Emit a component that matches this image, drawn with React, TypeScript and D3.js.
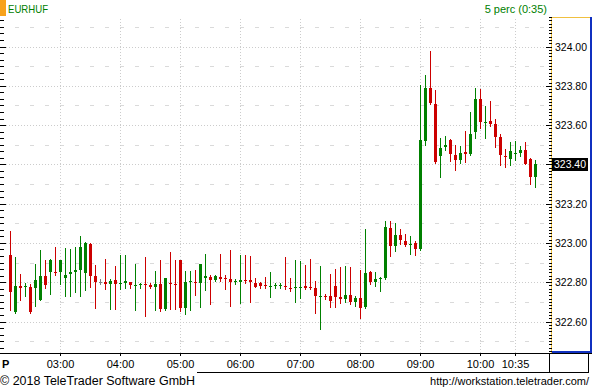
import React from "react";
import * as d3 from "d3";

const symbol = "EURHUF";
const periodLabel = "5 perc (0:35)";
const firstBarMinute = 130; // 02:10
const barMinutes = 5;
const timeTicks = ["03:00", "04:00", "05:00", "06:00", "07:00", "08:00", "09:00", "10:00", "10:35"];
const priceTicks = [322.6, 322.8, 323.0, 323.2, 323.4, 323.6, 323.8, 324.0];
const lastPriceLabel = "323.40";

const opens = [322.939,322.647,322.782,322.776,322.776,322.769,322.711,322.832,322.854,322.854,322.854,322.823,322.842,322.854,322.864,322.849,322.995,322.832,322.800,322.801,322.791,322.811,322.791,322.796,322.801,322.781,322.786,322.791,322.787,322.776,322.791,322.664,322.796,322.791,322.913,322.670,322.801,322.801,322.796,322.821,322.827,322.811,322.827,322.823,322.816,322.801,322.801,322.811,322.811,322.796,322.796,322.786,322.776,322.781,322.781,322.781,322.772,322.771,322.771,322.781,322.776,322.771,322.726,322.731,322.730,322.781,322.726,322.716,322.735,322.701,322.720,322.675,322.852,322.801,322.816,322.821,323.076,322.985,323.040,323.010,322.990,323.000,322.969,323.519,323.789,323.707,323.443,323.489,323.524,323.448,323.422,323.463,323.453,323.565,323.733,323.611,323.621,323.606,323.539,323.443,323.427,323.453,323.458,323.473,323.427,323.336];
const highs = [323.061,322.928,322.842,322.795,322.789,322.893,322.964,322.913,322.918,322.979,322.913,322.974,322.969,322.979,323.035,323.005,322.998,322.888,322.816,322.918,322.816,322.882,322.939,322.939,322.801,322.893,322.796,322.928,322.795,322.857,322.913,322.821,322.954,322.913,322.913,322.857,322.857,322.862,322.893,322.944,322.837,322.837,322.944,322.837,322.964,322.816,322.939,322.939,322.934,322.821,322.801,322.827,322.852,322.796,322.795,322.928,322.821,322.913,322.908,322.888,322.918,322.806,322.882,322.740,322.842,322.869,322.877,322.882,322.877,322.731,322.862,323.071,322.857,322.852,322.827,323.112,323.112,323.101,323.071,323.045,323.035,323.010,323.804,323.855,323.977,323.779,323.534,323.544,323.529,323.499,323.494,323.570,323.667,323.789,323.784,323.697,323.722,323.631,323.555,323.478,323.514,323.519,323.494,323.514,323.432,323.422];
const lows = [322.659,322.643,322.711,322.731,322.643,322.679,322.709,322.772,322.740,322.837,322.789,322.731,322.731,322.752,322.731,322.760,322.774,322.670,322.789,322.764,322.665,322.665,322.764,322.769,322.771,322.659,322.769,322.630,322.769,322.659,322.655,322.660,322.664,322.664,322.655,322.640,322.660,322.736,322.675,322.762,322.691,322.806,322.806,322.765,322.680,322.791,322.696,322.796,322.701,322.776,322.771,322.772,322.726,322.771,322.771,322.765,322.757,322.701,322.721,322.765,322.765,322.645,322.563,322.713,322.675,322.675,322.696,322.701,322.691,322.679,322.619,322.670,322.791,322.781,322.757,322.816,322.934,322.959,322.995,322.985,322.944,322.939,322.964,323.499,323.707,323.407,323.336,323.473,323.417,323.371,323.407,323.412,323.448,323.534,323.585,323.534,323.595,323.489,323.397,323.387,323.397,323.422,323.443,323.402,323.300,323.285];
const closes = [322.752,322.781,322.772,322.781,322.647,322.811,322.832,322.786,322.913,322.846,322.913,322.837,322.852,322.864,322.979,323.001,322.832,322.803,322.800,322.791,322.806,322.791,322.796,322.806,322.786,322.786,322.791,322.786,322.776,322.791,322.665,322.821,322.791,322.786,322.670,322.801,322.806,322.796,322.893,322.832,322.811,322.832,322.816,322.818,322.803,322.806,322.811,322.806,322.801,322.776,322.781,322.781,322.781,322.786,322.786,322.776,322.767,322.776,322.776,322.771,322.771,322.731,322.730,322.726,322.706,322.726,322.716,322.735,322.701,322.721,322.670,322.847,322.801,322.816,322.821,323.081,322.985,323.040,323.015,322.990,322.995,322.969,323.524,323.789,323.712,323.412,323.483,323.499,323.453,323.422,323.458,323.453,323.555,323.733,323.616,323.616,323.606,323.539,323.448,323.438,323.468,323.458,323.473,323.402,323.336,323.402];

const W = 592, H = 390;
const plotTop = 17, plotBottom = 353, plotRight = 551;
const FONT = "'Liberation Sans', Arial, sans-serif";
const GREEN = "#008000", RED = "#cc0000", GRAY = "#808080";

const toMin = (s: string) => { const [h, m] = s.split(":").map(Number); return h * 60 + m; };

export default function App() {
  const x = d3.scaleLinear().domain([firstBarMinute, firstBarMinute + barMinutes * 105]).range([10, 535]);
  const y = d3.scaleLinear().domain([322.6, 324.0]).range([321.5, 46.5]);
  const inv = (py: number) => y.invert(py);
  const pLow = inv(plotBottom), pHigh = inv(plotTop);

  const leftTicks: { py: number; major: boolean }[] = [];
  for (let k = -10; k <= 60; k++) {
    const p = 322.6 + k / 30;
    if (p < pLow || p > pHigh) continue;
    leftTicks.push({ py: Math.round(y(p)) + 0.5, major: k % 6 === 0 });
  }
  const rightTicks: { py: number; major: boolean }[] = [];
  for (let k = -20; k <= 120; k++) {
    const p = 322.6 + k / 60;
    if (p < pLow || p > pHigh) continue;
    rightTicks.push({ py: Math.round(y(p)) + 0.5, major: k % 12 === 0 });
  }
  const minorLevels = priceTicks.map((p) => p + 0.1).concat([322.5]).filter((p) => p > pLow && p < pHigh);

  const candles = opens.map((o, i) => {
    const c = closes[i];
    const px = Math.round(x(firstBarMinute + barMinutes * i));
    const yH = Math.round(y(highs[i]));
    const yL = Math.round(y(lows[i]));
    const yT = Math.round(y(Math.max(o, c)));
    const yB = Math.round(y(Math.min(o, c)));
    const col = c > o ? GREEN : c < o ? RED : GRAY;
    return { px, yH, yL, yT, bh: Math.max(1, yB - yT), col, i };
  });

  const lastY = Math.round(y(closes[closes.length - 1]));

  return (
    <svg width={W} height={H} style={{ position: "absolute", left: 0, top: 0, background: "#fff" }} shapeRendering="crispEdges">
      <rect x={0} y={0} width={W} height={H} fill="#fff" />
      {/* header */}
      <rect x={0} y={0} width={6} height={16} fill="#f7a21b" />
      <text x={8} y={13} fontFamily={FONT} fontSize={11} fill={GREEN} textLength={40} lengthAdjust="spacingAndGlyphs">{symbol}</text>
      <text x={547} y={13} fontFamily={FONT} fontSize={11} fill={GREEN} textAnchor="end">{periodLabel}</text>

      {/* grid */}
      {minorLevels.map((p, i) => (
        <line key={"mn" + i} x1={15} x2={plotRight - 5} y1={Math.round(y(p)) + 0.5} y2={Math.round(y(p)) + 0.5} stroke="#dadada" strokeDasharray="4,11" />
      ))}
      {priceTicks.map((p, i) => (
        <line key={"mj" + i} x1={0} x2={plotRight - 5} y1={Math.round(y(p)) + 0.5} y2={Math.round(y(p)) + 0.5} stroke="#cccccc" strokeDasharray="1,2" />
      ))}
      {timeTicks.map((t, i) => (
        <line key={"vg" + i} x1={Math.round(x(toMin(t))) + 0.5} x2={Math.round(x(toMin(t))) + 0.5} y1={plotTop + 2} y2={plotBottom} stroke="#cccccc" strokeDasharray="1,2" />
      ))}

      {/* candles */}
      {candles.map((d) => (
        <g key={"c" + d.i} fill={d.col}>
          <rect x={d.px} y={d.yH} width={1} height={d.yL - d.yH + 1} />
          <rect x={d.px - 1} y={d.yT} width={3} height={d.bh} />
        </g>
      ))}

      {/* left axis ticks */}
      {leftTicks.map((t, i) => (
        <line key={"lt" + i} x1={0} x2={t.major ? 6 : 4} y1={t.py} y2={t.py} stroke="#000" />
      ))}

      {/* right axis */}
      <line x1={plotRight + 0.5} x2={plotRight + 0.5} y1={plotTop} y2={plotBottom} stroke="#f0c040" />
      <line x1={plotRight} x2={591} y1={plotTop + 0.5} y2={plotTop + 0.5} stroke="#f0c040" />
      <line x1={590.5} x2={590.5} y1={plotTop} y2={plotBottom} stroke="#1030c0" strokeWidth={2} />
      <line x1={plotRight + 1} x2={591} y1={plotBottom - 1} y2={plotBottom - 1} stroke="#1030c0" strokeWidth={2} />
      {rightTicks.map((t, i) => (
        <line key={"rt" + i} x1={t.major ? 546 : 549} x2={552} y1={t.py} y2={t.py} stroke="#000" />
      ))}
      {priceTicks.map((p, i) => (
        <text key={"pl" + i} x={555} y={Math.round(y(p)) + 4} fontFamily={FONT} fontSize={11} fill="#000" textLength={32} lengthAdjust="spacingAndGlyphs">{p.toFixed(2)}</text>
      ))}
      <rect x={552} y={lastY - 6} width={36} height={13} fill="#000" />
      <text x={554} y={lastY + 4} fontFamily={FONT} fontSize={11} fill="#fff" textLength={32} lengthAdjust="spacingAndGlyphs">{lastPriceLabel}</text>

      {/* x axis */}
      <line x1={0} x2={W} y1={plotBottom + 0.5} y2={plotBottom + 0.5} stroke="#000" />
      {timeTicks.map((t, i) => {
        const tx = Math.round(x(toMin(t))) + 0.5;
        return (
          <g key={"xt" + i}>
            <line x1={tx} x2={tx} y1={plotBottom} y2={plotBottom + 3} stroke="#000" />
            <text x={tx} y={367.5} fontFamily={FONT} fontSize={11} textAnchor="middle" fill="#000">{t}</text>
          </g>
        );
      })}
      <text x={2} y={367.5} fontFamily={FONT} fontSize={11} fontWeight="bold" fill="#000">P</text>
      <line x1={197} x2={589} y1={372.5} y2={372.5} stroke="#000" />
      <line x1={549.5} x2={549.5} y1={plotBottom} y2={373} stroke="#000" />
      <line x1={588.5} x2={588.5} y1={plotBottom} y2={373} stroke="#000" />

      {/* footer */}
      <text x={0} y={385} fontFamily={FONT} fontSize={12} fill="#000" textLength={195} lengthAdjust="spacingAndGlyphs">© 2018 TeleTrader Software GmbH</text>
      <text x={589} y={385} fontFamily={FONT} fontSize={11} fill="#000" textAnchor="end">http://workstation.teletrader.com/</text>
    </svg>
  );
}
